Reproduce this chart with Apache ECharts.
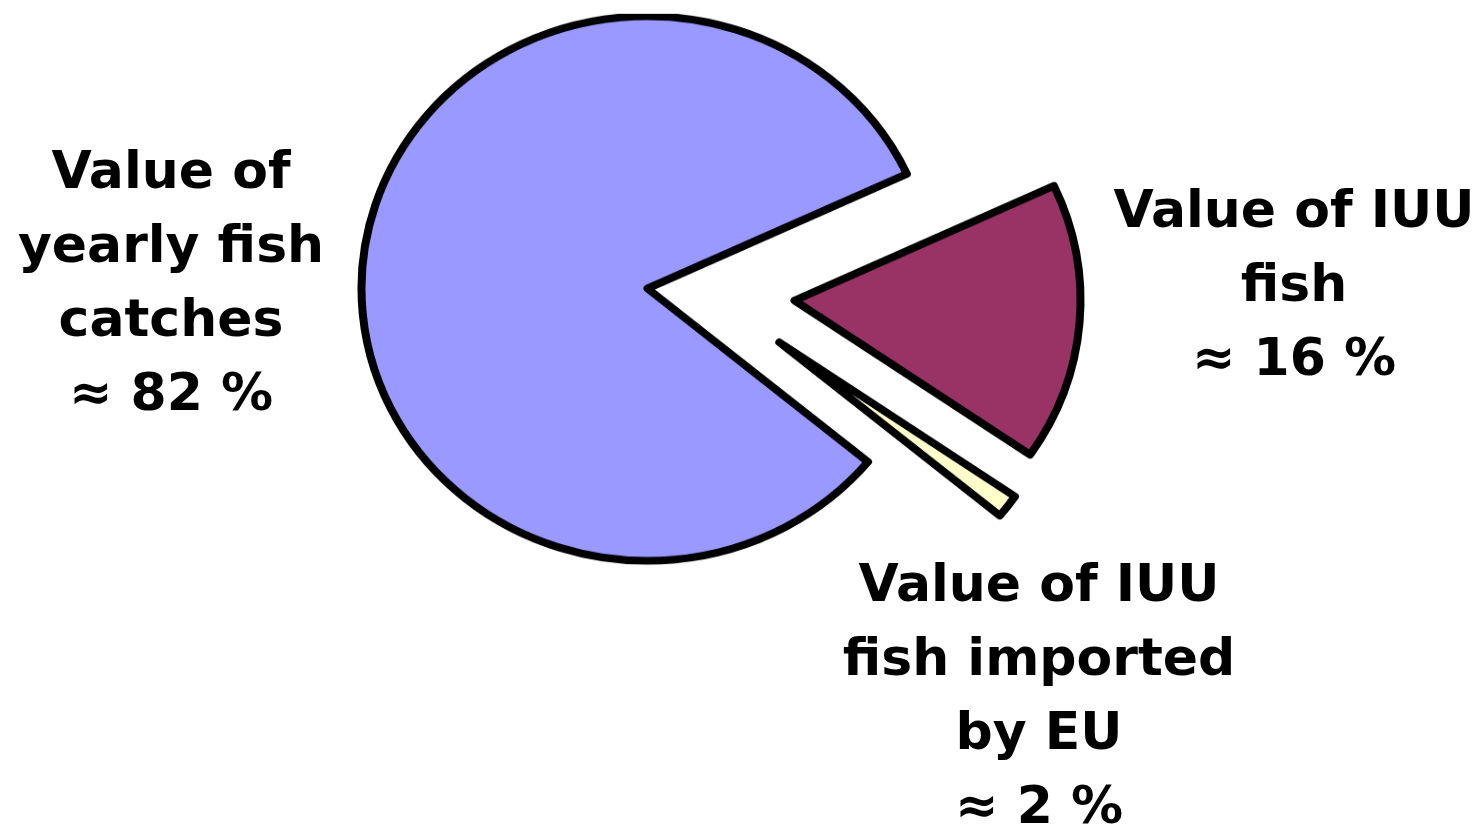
<!DOCTYPE html>
<html>
<head>
<meta charset="utf-8">
<script src="https://cdn.jsdelivr.net/npm/echarts@6.0.0/dist/echarts.min.js"></script>
<style>
  html, body { margin: 0; padding: 0; background: #ffffff; }
  #wrap { position: relative; width: 1478px; height: 826px; overflow: hidden; background: #ffffff; }
  #pie { position: absolute; left: 0; top: 0; width: 1478px; height: 826px;
         transform: scaleY(0.952); transform-origin: 0 288.5px; }
  #txt { position: absolute; left: 0; top: 0; width: 1478px; height: 826px; }
</style>
</head>
<body>
<div id="wrap">
  <div id="pie"></div>
  <div id="txt"></div>
</div>
<script>
// ---- data ----
const categories = ['Value of yearly fish catches', 'Value of IUU fish', 'Value of IUU fish imported by EU'];
const values = [82.1, 16.5, 1.4];
const labelLines = [
  ['Value of', 'yearly fish', 'catches', '≈ 82 %'],
  ['Value of IUU', 'fish', '≈ 16 %'],
  ['Value of IUU', 'fish imported', 'by EU', '≈ 2 %']
];
const sliceColors = ['#9999FF', '#993366', '#FFFFCC'];

// ---- layout / style (not data) ----
const sliceCenters = [[647.5, 288.5], [794.5, 301.1], [779.3, 345.0]];
const sliceRadius = 286;
const labelPos = [[171, 285], [1294, 287], [1039, 698]];

const pieChart = echarts.init(document.getElementById('pie'), null, { renderer: 'canvas' });
const series = categories.map(function (cat, k) {
  return {
    type: 'pie',
    silent: true,
    animation: false,
    clockwise: true,
    startAngle: 320.46,
    center: sliceCenters[k],
    radius: [0, sliceRadius],
    label: { show: false },
    labelLine: { show: false },
    emphasis: { disabled: true },
    data: values.map(function (v, i) {
      return {
        value: v,
        name: categories[i],
        itemStyle: i === k
          ? { color: sliceColors[i], borderColor: '#000000', borderWidth: 8, borderJoin: 'round' }
          : { color: 'rgba(0,0,0,0)', borderWidth: 0 }
      };
    })
  };
});
pieChart.setOption({ animation: false, series: series });

const txtChart = echarts.init(document.getElementById('txt'), null, { renderer: 'canvas' });
txtChart.setOption({
  animation: false,
  graphic: labelLines.map(function (lines, k) {
    return {
      type: 'text',
      x: labelPos[k][0],
      y: labelPos[k][1],
      silent: true,
      style: {
        text: lines.join('\n'),
        fill: '#000000',
        fontFamily: 'DejaVu Sans',
        fontWeight: 'bold',
        fontSize: 52,
        lineHeight: 74,
        align: 'center',
        verticalAlign: 'middle'
      }
    };
  })
});
</script>
</body>
</html>
